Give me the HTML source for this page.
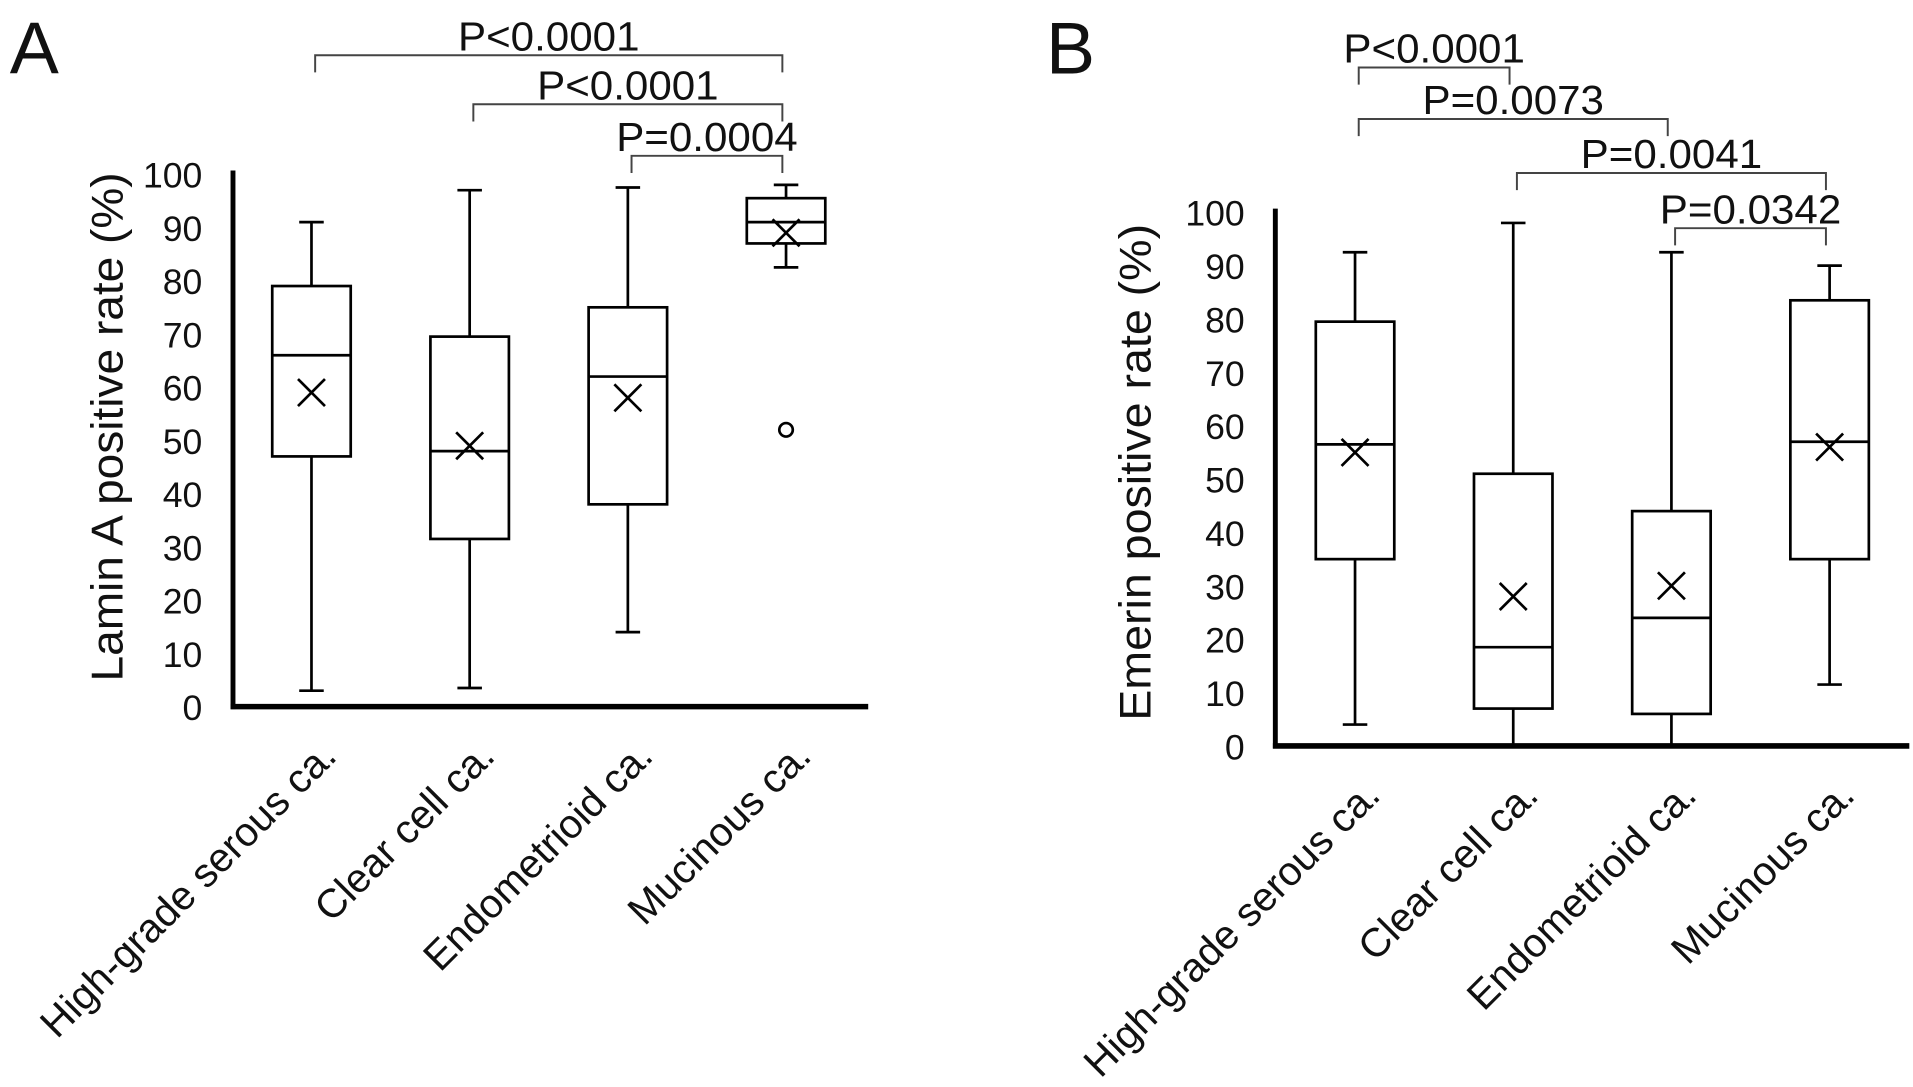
<!DOCTYPE html>
<html><head><meta charset="utf-8"><style>
html,body{margin:0;padding:0;background:#fff;}
svg{display:block;}
text{font-family:"Liberation Sans",Arial,sans-serif;fill:#111;}
</style></head><body>
<svg id="chart" width="1913" height="1087" viewBox="0 0 1560 886" preserveAspectRatio="none" xmlns="http://www.w3.org/2000/svg"></svg>
<script>
const categories = ["High-grade serous ca.","Clear cell ca.","Endometrioid ca.","Mucinous ca."];
const yTicks = [0,10,20,30,40,50,60,70,80,90,100];
// Panel A: Lamin A
const aMin = [3,3.5,14,82.5];
const aQ1 = [47,31.5,38,87];
const aMed = [66,48,62,91];
const aQ3 = [79,69.5,75,95.5];
const aMax = [91,97,97.5,98];
const aMean = [59,49,58,89];
const aOutliers = [[],[],[],[52]];
const aBrackets = [[0,3,"P<0.0001"],[1,3,"P<0.0001"],[2,3,"P=0.0004"]];
// Panel B: Emerin
const bMin = [4,0,0,11.5];
const bQ1 = [35,7,6,35];
const bMed = [56.5,18.5,24,57];
const bQ3 = [79.5,51,44,83.5];
const bMax = [92.5,98,92.5,90];
const bMean = [55,28,30,56];
const bOutliers = [[],[],[],[]];
const bBrackets = [[0,1,"P<0.0001"],[0,2,"P=0.0073"],[1,3,"P=0.0041"],[2,3,"P=0.0342"]];

const NS="http://www.w3.org/2000/svg";
const svg=document.getElementById('chart');
function mk(tag,attrs,parent){const e=document.createElementNS(NS,tag);for(const k in attrs)e.setAttribute(k,attrs[k]);(parent||svg).appendChild(e);return e;}

function panel(cfg){
  const g=mk('g',{});
  
  
  const y=v=>cfg.y0-(cfg.y0-cfg.y100)*v/100;
  const x=i=>cfg.cx0+i*cfg.step;
  const lt=mk('text',{x:cfg.letterX,y:60,'font-size':60},g);lt.textContent=cfg.letter;
  
  
  const ya=mk('line',{x1:cfg.ax,y1:cfg.y100-3,x2:cfg.ax,y2:cfg.y0+2,stroke:'#000','stroke-width':4},g);
  
  
  const xa=mk('line',{x1:cfg.ax-2,y1:cfg.y0,x2:cfg.axEnd,y2:cfg.y0,stroke:'#000','stroke-width':4.5},g);
  
  
  yTicks.forEach(t=>{const tx=mk('text',{x:cfg.ax-25,y:y(t)+11,'font-size':29,'text-anchor':'end'},g);tx.textContent=t;
    
    });
  const yt=mk('text',{x:0,y:0,'font-size':36,'text-anchor':'middle',textLength:cfg.titleLen,lengthAdjust:'spacingAndGlyphs',transform:`translate(${cfg.titleX},${cfg.titleY}) rotate(-90)`},g);
  yt.textContent=cfg.title;
  
  
  const hw=32, cap=10;
  categories.forEach((c,i)=>{
    const cx=x(i);
    const bg=mk('g',{stroke:'#000','stroke-width':2.2,fill:'none'},g);
    
    
    mk('line',{x1:cx,y1:y(cfg.max[i]),x2:cx,y2:y(cfg.q3[i])},bg);
    mk('line',{x1:cx,y1:y(cfg.q1[i]),x2:cx,y2:y(cfg.min[i])},bg);
    if(cfg.min[i]>0.5) mk('line',{x1:cx-cap,y1:y(cfg.min[i]),x2:cx+cap,y2:y(cfg.min[i])},bg);
    mk('line',{x1:cx-cap,y1:y(cfg.max[i]),x2:cx+cap,y2:y(cfg.max[i])},bg);
    mk('rect',{x:cx-hw,y:y(cfg.q3[i]),width:hw*2,height:y(cfg.q1[i])-y(cfg.q3[i]),fill:'#fff'},bg);
    mk('line',{x1:cx-hw,y1:y(cfg.med[i]),x2:cx+hw,y2:y(cfg.med[i])},bg);
    const my=y(cfg.mean[i]),m=11;
    mk('path',{d:`M${cx-m},${my-m}L${cx+m},${my+m}M${cx+m},${my-m}L${cx-m},${my+m}`},bg);
    cfg.out[i].forEach(o=>mk('circle',{cx:cx,cy:y(o),r:5.5},bg));
    const lb=mk('text',{x:0,y:0,'font-size':33,'text-anchor':'end',transform:`translate(${cx+22},${cfg.y0+42}) rotate(-45)`},g);
    lb.textContent=c;
    
    
  });
  cfg.br.forEach((b,k)=>{
    const by=cfg.brY[k], x1=x(b[0])+3, x2=x(b[1])-3;
    const p=mk('path',{d:`M${x1},${by+14}L${x1},${by}L${x2},${by}L${x2},${by+14}`,stroke:'#444','stroke-width':1.6,fill:'none'},g);
    
    
    const t=mk('text',{x:(x1+x2)/2,y:by-4,'font-size':33,'text-anchor':'middle',textLength:148,lengthAdjust:'spacingAndGlyphs'},g);t.textContent=b[2];
    
    
  });
}
panel({name:'panel-a-lamin',letter:'A',letterX:8,ax:190,axEnd:708,y0:576,y100:142,cx0:254,step:129,titleX:100,titleY:348,titleLen:415,
 title:'Lamin A positive rate (%)',min:aMin,q1:aQ1,med:aMed,q3:aQ3,max:aMax,mean:aMean,out:aOutliers,br:aBrackets,brY:[45,85,127]});
panel({name:'panel-b-emerin',letter:'B',letterX:853,ax:1040,axEnd:1557,y0:608,y100:173,cx0:1105,step:129,titleX:938,titleY:385,titleLen:405,
 title:'Emerin positive rate (%)',min:bMin,q1:bQ1,med:bMed,q3:bQ3,max:bMax,mean:bMean,out:bOutliers,br:bBrackets,brY:[55,97,141,186]});
</script>
</body></html>
